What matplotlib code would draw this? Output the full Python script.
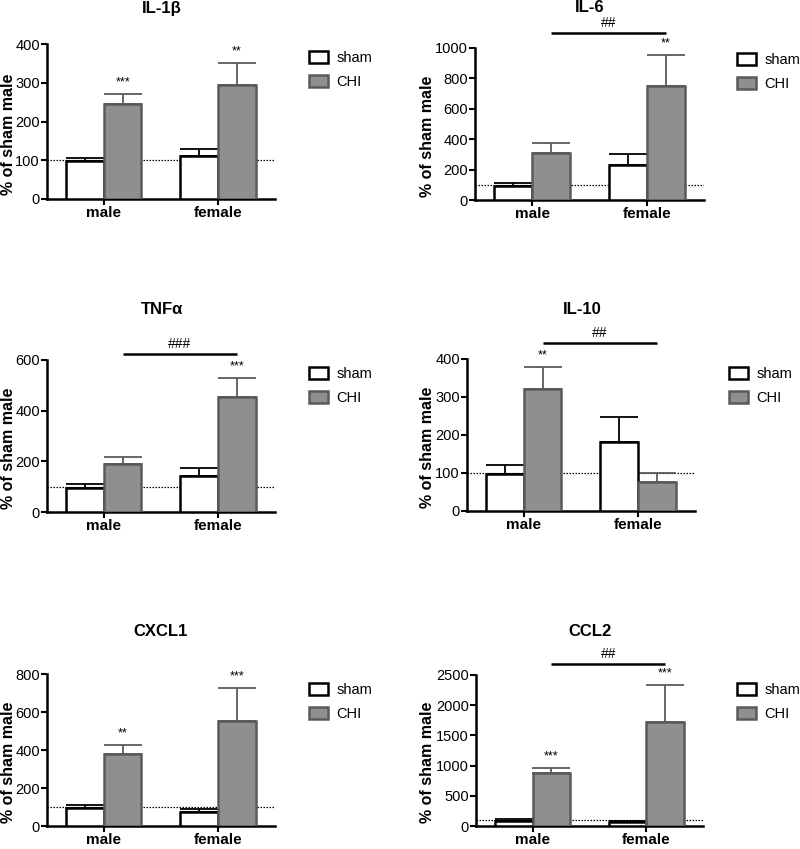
import matplotlib
matplotlib.use('Agg')
import matplotlib.pyplot as plt
from matplotlib.patches import Patch
import numpy as np

plt.rcParams['font.family'] = ['Liberation Sans', 'DejaVu Sans']

# data (% of sham male)
titles = ['IL-1β', 'IL-6', 'TNFα', 'IL-10', 'CXCL1', 'CCL2']
groups = ['male', 'female']
sham_mean = [[97, 112], [94, 232], [96, 143], [98, 181], [97, 73], [87, 60]]
sham_err = [[8, 18], [18, 70], [13, 29], [23, 66], [16, 17], [22, 27]]
chi_mean = [[244, 295], [306, 748], [189, 454], [321, 77], [377, 555], [873, 1719]]
chi_err = [[27, 56], [66, 202], [27, 76], [57, 22], [47, 170], [93, 617]]
chi_stars = [['***', '**'], ['', '**'], ['', '***'], ['**', ''], ['**', '***'], ['***', '***']]
hash_text = ['', '##', '###', '##', '', '##']
hash_y = [0, 1094, 622, 441, 0, 2680]
y_max = [400, 1000, 600, 400, 800, 2500]
y_step = [100, 200, 200, 100, 200, 500]

# axes boxes in pixels: left, top, right, bottom
boxes = [(46.7, 44, 275, 199), (475, 47.7, 704, 200),
         (46.7, 360, 275, 512), (466.7, 359, 695, 511),
         (46.7, 674, 275, 826), (476, 675, 703, 826)]
legend_xy = [(309, 51), (737, 53), (309, 367), (729, 367), (309, 683), (737, 683)]
title_pos = [(162, 8), (590, 8), (162, 310), (582, 310), (161, 632), (590, 632)]
# right (baseline) edge of the rotated y label, in pixels
ylabel_px = [16, 435, 16, 435, 16, 435]

W, H = 800, 849
fig = plt.figure(figsize=(W / 100, H / 100), dpi=100)

sham_face, sham_edge = 'white', 'black'
chi_face, chi_edge = '#8f8f8f', '#5a5a5a'
width = 0.33
ind = np.arange(len(groups))

for i in range(6):
    l, t, r, b = boxes[i]
    ax = fig.add_axes([l / W, 1 - b / H, (r - l) / W, (b - t) / H])

    ax.axhline(100, color='black', ls=(0, (1.2, 1.2)), lw=0.9, zorder=1)
    ax.bar(ind - width / 2, sham_mean[i], width, color=sham_face,
           edgecolor=sham_edge, linewidth=1.8, zorder=3)
    ax.bar(ind + width / 2, chi_mean[i], width, color=chi_face,
           edgecolor=chi_edge, linewidth=1.8, zorder=3)
    ax.errorbar(ind - width / 2, sham_mean[i], yerr=[[0, 0], sham_err[i]],
                fmt='none', ecolor=sham_edge, elinewidth=1.3, capsize=14,
                capthick=1.3, zorder=2)
    ax.errorbar(ind + width / 2, chi_mean[i], yerr=[[0, 0], chi_err[i]],
                fmt='none', ecolor=chi_edge, elinewidth=1.3, capsize=14,
                capthick=1.3, zorder=2)

    for j in range(2):
        if chi_stars[i][j]:
            ax.annotate(chi_stars[i][j], (ind[j] + width / 2, chi_mean[i][j] + chi_err[i][j]),
                        xytext=(0, 4), textcoords='offset points',
                        ha='center', va='bottom', fontsize=9)

    if hash_text[i]:
        ax.plot([width / 2, 1 + width / 2], [hash_y[i], hash_y[i]], color='black',
                lw=1.8, clip_on=False, solid_capstyle='butt')
        ax.annotate(hash_text[i], (0.5 + width / 2, hash_y[i]), xytext=(0, 2.5),
                    textcoords='offset points', ha='center', va='bottom',
                    fontsize=10, annotation_clip=False)

    ax.set_xlim(-0.5, 1.5)
    ax.set_ylim(0, y_max[i])
    ax.set_yticks(np.arange(0, y_max[i] + 1, y_step[i]))
    ax.set_xticks(ind)
    ax.set_xticklabels(groups, fontsize=11, fontweight='bold')
    ax.tick_params(axis='y', labelsize=10.5, length=4, width=1.5, pad=1)
    ax.tick_params(axis='x', length=4, width=1.5, pad=1)
    for s in ['top', 'right']:
        ax.spines[s].set_visible(False)
    for s in ['left', 'bottom']:
        ax.spines[s].set_linewidth(1.8)

    ax.set_ylabel('% of sham male', fontsize=11.5, fontweight='bold')
    ax.yaxis.set_label_coords((ylabel_px[i] - l) / (r - l), 0.42)

    tx, ty = title_pos[i]
    fig.text(tx / W, 1 - ty / H, titles[i], ha='center', va='center',
             fontsize=12, fontweight='bold')

    lx, ly = legend_xy[i]
    handles = [Patch(facecolor=sham_face, edgecolor=sham_edge, linewidth=1.8),
               Patch(facecolor=chi_face, edgecolor=chi_edge, linewidth=1.8)]
    ax.legend(handles, ['sham', 'CHI'], loc='upper left',
              bbox_to_anchor=(lx / W, 1 - ly / H), bbox_transform=fig.transFigure,
              frameon=False, fontsize=10.5, handlelength=1.3, handleheight=0.9,
              handletextpad=0.6, labelspacing=0.7, borderpad=0, borderaxespad=0)

fig.savefig('out.png', dpi=100)
